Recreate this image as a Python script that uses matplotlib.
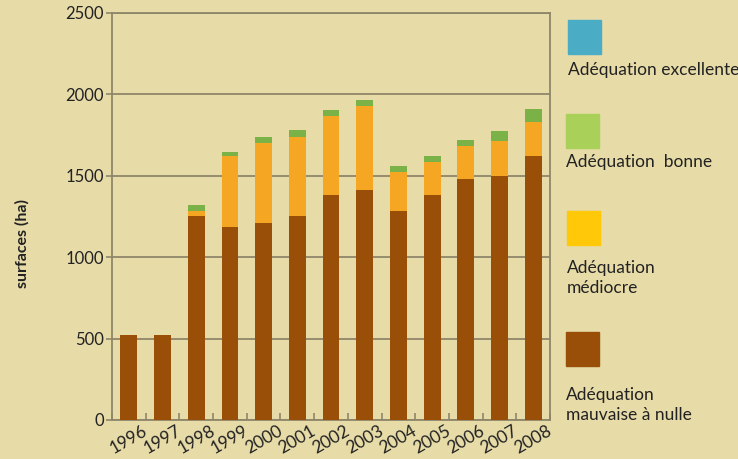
import numpy as np
import matplotlib.pyplot as plt
from matplotlib.patches import Rectangle

# data (surfaces in ha)
years = ['1996', '1997', '1998', '1999', '2000', '2001', '2002',
         '2003', '2004', '2005', '2006', '2007', '2008']
mauvaise = [522, 522, 1253, 1184, 1212, 1253, 1380, 1413, 1282, 1380, 1480, 1497, 1620]
mediocre = [0, 0, 29, 436, 488, 483, 489, 516, 239, 205, 205, 215, 209]
bonne = [0, 0, 37, 28, 36, 43, 35, 37, 39, 35, 35, 61, 84]
excellente = [0] * 13

legend_labels = ['Adéquation excellente', 'Adéquation  bonne',
                 'Adéquation\nmédiocre', 'Adéquation\nmauvaise à nulle']

bg = '#E7DBA8'
c_brown = '#9A4F08'
c_orange = '#F5A623'
c_green = '#7BB247'
c_blue = '#4BACC6'
legend_colors = [c_blue, '#A9D15A', '#FFC90A', c_brown]
line_col = '#8E8668'

plt.rcParams['font.family'] = ['Lato', 'DejaVu Sans']

fig = plt.figure(figsize=(7.38, 4.59), dpi=100, facecolor=bg)
ax = fig.add_axes([0.1518, 0.085, 0.5935, 0.8867], facecolor=bg)

x = np.arange(len(years))
w = 0.5
b1 = np.array(mauvaise)
b2 = b1 + np.array(mediocre)
b3 = b2 + np.array(bonne)
ax.bar(x, mauvaise, w, color=c_brown, zorder=3)
ax.bar(x, mediocre, w, bottom=b1, color=c_orange, zorder=3)
ax.bar(x, bonne, w, bottom=b2, color=c_green, zorder=3)
ax.bar(x, excellente, w, bottom=b3, color=c_blue, zorder=3)

ax.set_xlim(-0.5, 12.5)
ax.set_ylim(0, 2500)
ax.set_yticks([0, 500, 1000, 1500, 2000, 2500])
ax.set_yticklabels(['0', '500', '1000', '1500', '2000', '2500'], fontsize=12, color='#222222')
ax.yaxis.grid(True, color=line_col, linewidth=1.3, zorder=1)

# ticks between categories, labels rotated under each bar
ax.set_xticks(np.arange(-0.5, 13, 1.0))
ax.set_xticklabels([])
ax.set_xticks(x, minor=True)
ax.set_xticklabels(years, minor=True, rotation=30, ha='center', fontsize=12.5, color='#222222')
ax.tick_params(axis='x', which='minor', length=0, pad=2)
ax.tick_params(axis='x', which='major', length=5, direction='in', color=line_col, width=1.2)
ax.tick_params(axis='y', length=4, color=line_col, width=1.2, pad=2)

for s in ['left', 'right', 'top', 'bottom']:
    ax.spines[s].set_color(line_col)
    ax.spines[s].set_linewidth(1.3)

fig.text(0.03, 0.47, 'surfaces (ha)', rotation=90, ha='center', va='center',
         fontsize=11.5, fontweight='bold', color='#222222')

# hand-made legend on the right
W, H = 738, 459
sq = [(568, 20), (566, 114), (567, 211), (566, 332)]
txt_y = [70, 162, 278, 405]
for (sx, sy), col, lab, ty in zip(sq, legend_colors, legend_labels, txt_y):
    fig.patches.append(Rectangle((sx / W, 1 - (sy + 34) / H), 33 / W, 34 / H,
                                 transform=fig.transFigure, color=col))
    fig.text(sx / W, 1 - ty / H, lab, ha='left', va='center', fontsize=12.5,
             color='#222222', linespacing=1.35)

fig.savefig('out.png', dpi=100, facecolor=bg)
